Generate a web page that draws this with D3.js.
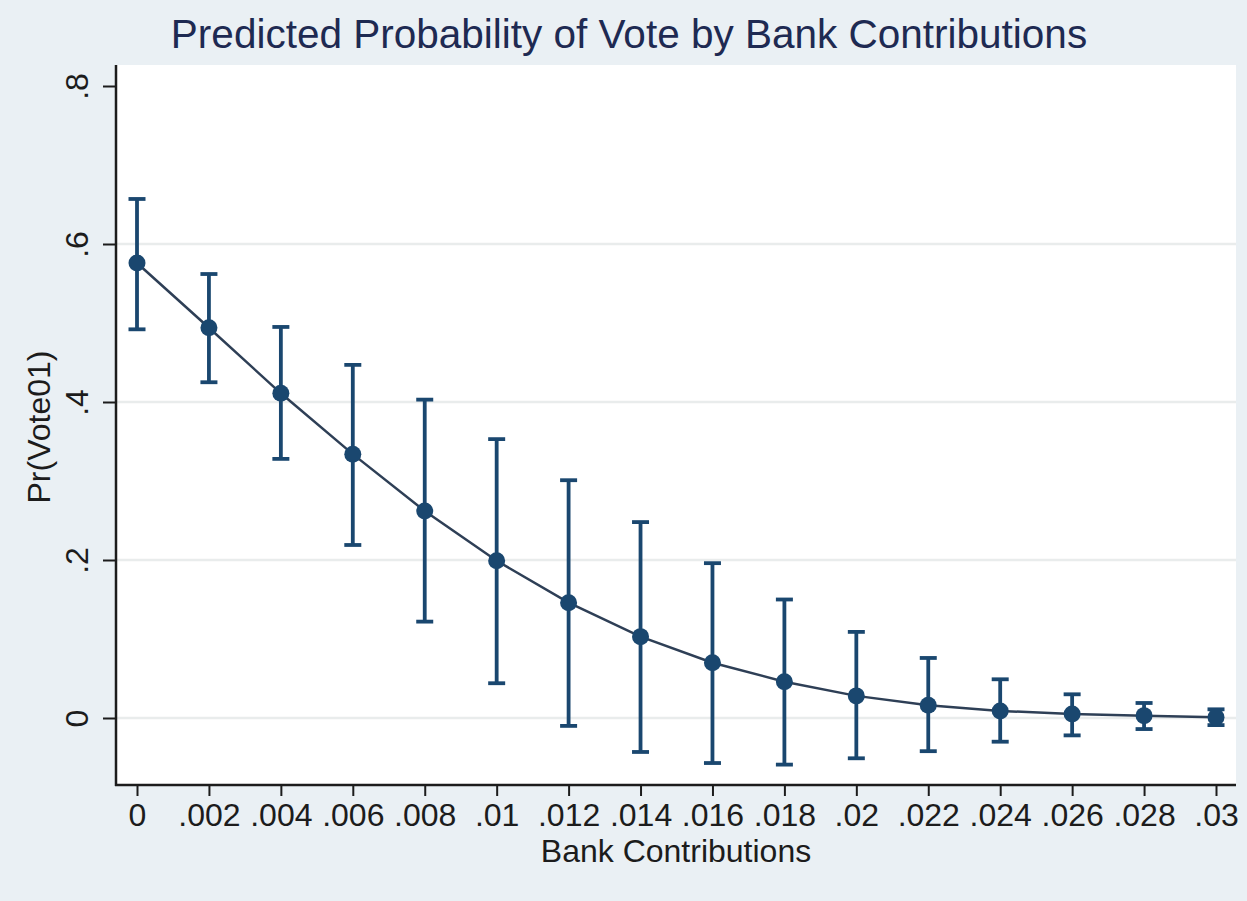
<!DOCTYPE html>
<html>
<head>
<meta charset="utf-8">
<script src="https://cdn.jsdelivr.net/npm/d3@7"></script>
<style>
  html, body { margin: 0; padding: 0; background: #eaf0f4; }
  svg { display: block; font-family: Arial, "Liberation Sans", sans-serif; }
</style>
</head>
<body>
<svg id="chart" width="1247" height="901"></svg>
<script>
// Bank contribution levels at which the margin was evaluated
const contributions = [0, 0.002, 0.004, 0.006, 0.008, 0.010, 0.012, 0.014,
                       0.016, 0.018, 0.020, 0.022, 0.024, 0.026, 0.028, 0.030];
// Predicted probability of a yes vote
const predicted = [0.576, 0.494, 0.411, 0.334, 0.262, 0.199, 0.146, 0.103,
                   0.070, 0.046, 0.028, 0.016, 0.009, 0.005, 0.003, 0.001];
// 95% confidence bounds
const ciLower = [0.492, 0.425, 0.328, 0.219, 0.122, 0.044, -0.010, -0.043,
                 -0.057, -0.059, -0.051, -0.042, -0.030, -0.022, -0.014, -0.009];
const ciUpper = [0.657, 0.562, 0.495, 0.447, 0.403, 0.353, 0.301, 0.248,
                 0.196, 0.150, 0.109, 0.076, 0.049, 0.030, 0.019, 0.011];

const xTicks = [0, 0.002, 0.004, 0.006, 0.008, 0.010, 0.012, 0.014,
                0.016, 0.018, 0.020, 0.022, 0.024, 0.026, 0.028, 0.030];
const xTickLabels = ["0", ".002", ".004", ".006", ".008", ".01", ".012", ".014",
                     ".016", ".018", ".02", ".022", ".024", ".026", ".028", ".03"];
const yTicks = [0, 0.2, 0.4, 0.6, 0.8];
const yTickLabels = ["0", ".2", ".4", ".6", ".8"];

const titleText = "Predicted Probability of Vote by Bank Contributions";
const xTitle = "Bank Contributions";
const yTitle = "Pr(Vote01)";

const W = 1247, H = 901;
const plot = { left: 116, right: 1236, top: 65, bottom: 785 };

const navy = "#1a476f";
const ink = "#1c1c1c";

const svg = d3.select("#chart");

svg.append("rect").attr("width", W).attr("height", H).attr("fill", "#eaf0f4");

const x = d3.scaleLinear().domain([0, 0.03]).range([137, 1216]);
const y = d3.scaleLinear().domain([0, 0.8]).range([718, 86]);

// plot region
svg.append("rect")
  .attr("x", plot.left).attr("y", plot.top)
  .attr("width", plot.right - plot.left).attr("height", plot.bottom - plot.top)
  .attr("fill", "#ffffff");

// horizontal grid lines
svg.append("g")
  .selectAll("line")
  .data(yTicks.filter(v => v < 0.8))
  .join("line")
  .attr("x1", plot.left).attr("x2", plot.right)
  .attr("y1", d => y(d)).attr("y2", d => y(d))
  .attr("stroke", "#e9ecec").attr("stroke-width", 2.5);

// y axis
const yAxis = d3.axisLeft(y)
  .tickValues(yTicks)
  .tickSize(13)
  .tickFormat((d, i) => yTickLabels[i]);
const gy = svg.append("g").attr("transform", `translate(${plot.left},0)`).call(yAxis);
gy.select(".domain").remove();
gy.selectAll(".tick line").attr("stroke", ink).attr("stroke-width", 2);
gy.selectAll(".tick text")
  .attr("x", 0).attr("y", 0).attr("dy", 0)
  .attr("transform", "translate(-28,0) rotate(-90)")
  .attr("text-anchor", "middle")
  .attr("font-size", 32)
  .attr("fill", ink);

// x axis
const xAxis = d3.axisBottom(x)
  .tickValues(xTicks)
  .tickSize(11)
  .tickFormat((d, i) => xTickLabels[i]);
const gx = svg.append("g").attr("transform", `translate(0,${plot.bottom})`).call(xAxis);
gx.select(".domain").remove();
gx.selectAll(".tick line").attr("stroke", ink).attr("stroke-width", 2);
gx.selectAll(".tick text")
  .attr("y", 41).attr("dy", 0)
  .attr("font-size", 32)
  .attr("fill", ink);

// axis lines
svg.append("line")
  .attr("x1", plot.left).attr("x2", plot.left)
  .attr("y1", plot.top).attr("y2", plot.bottom + 1)
  .attr("stroke", ink).attr("stroke-width", 2.5);
svg.append("line")
  .attr("x1", plot.left - 1).attr("x2", plot.right)
  .attr("y1", plot.bottom).attr("y2", plot.bottom)
  .attr("stroke", ink).attr("stroke-width", 2.5);

const rows = contributions.map((c, i) => ({
  c, p: predicted[i], lo: ciLower[i], hi: ciUpper[i]
}));

// confidence intervals
const ci = svg.append("g").attr("stroke", navy).attr("stroke-width", 3.8);
ci.selectAll("line.bar").data(rows).join("line").attr("class", "bar")
  .attr("x1", d => x(d.c)).attr("x2", d => x(d.c))
  .attr("y1", d => y(d.lo)).attr("y2", d => y(d.hi));
ci.selectAll("line.capHi").data(rows).join("line").attr("class", "capHi")
  .attr("x1", d => x(d.c) - 8.5).attr("x2", d => x(d.c) + 8.5)
  .attr("y1", d => y(d.hi)).attr("y2", d => y(d.hi));
ci.selectAll("line.capLo").data(rows).join("line").attr("class", "capLo")
  .attr("x1", d => x(d.c) - 8.5).attr("x2", d => x(d.c) + 8.5)
  .attr("y1", d => y(d.lo)).attr("y2", d => y(d.lo));

// connecting line
svg.append("path")
  .datum(rows)
  .attr("fill", "none")
  .attr("stroke", "#2e3f56")
  .attr("stroke-width", 2.5)
  .attr("d", d3.line().x(d => x(d.c)).y(d => y(d.p)));

// point estimates
svg.append("g").selectAll("circle").data(rows).join("circle")
  .attr("cx", d => x(d.c)).attr("cy", d => y(d.p))
  .attr("r", 8.5).attr("fill", navy);

// titles
svg.append("text")
  .attr("x", 629).attr("y", 48)
  .attr("text-anchor", "middle")
  .attr("font-size", 40.5)
  .attr("fill", "#1e2a52")
  .text(titleText);

svg.append("text")
  .attr("x", (plot.left + plot.right) / 2).attr("y", 862)
  .attr("text-anchor", "middle")
  .attr("font-size", 32)
  .attr("fill", ink)
  .text(xTitle);

svg.append("text")
  .attr("transform", `translate(50,${(plot.top + plot.bottom) / 2 + 2}) rotate(-90)`)
  .attr("text-anchor", "middle")
  .attr("font-size", 32)
  .attr("fill", ink)
  .text(yTitle);
</script>
</body>
</html>
